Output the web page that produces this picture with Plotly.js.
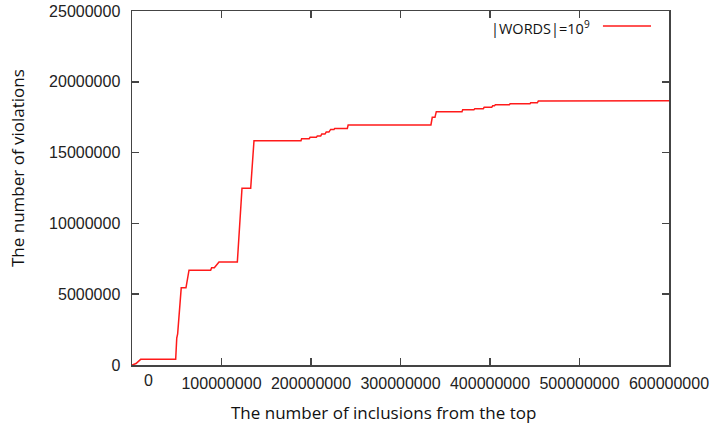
<!DOCTYPE html>
<html>
<head>
<meta charset="utf-8">
<script src="https://cdn.plot.ly/plotly-3.0.1.min.js"></script>
<style>html,body{margin:0;padding:0;background:#fff;}#chart{width:715px;height:432px;}</style>
</head>
<body>
<div id="chart"></div>
<script>
// Step curve vertices
const inclusions = [
  0, 4.5e6, 9.7e6, 48.8e6, 50e6, 51e6, 55e6, 60.3e6, 63.7e6, 87.9e6,
  89e6, 92e6, 97.2e6, 117.7e6, 122.9e6, 132.6e6, 136.3e6, 188.8e6, 189.5e6, 198e6,
  199e6, 206e6, 207e6, 210.8e6, 212e6, 215.6e6, 217e6, 220e6, 222e6, 225.7e6,
  226.5e6, 240.6e6, 241.5e6, 334e6, 335.5e6, 338.5e6, 340e6, 368.7e6, 369.5e6, 382e6,
  383e6, 392.5e6, 393.5e6, 401.9e6, 403e6, 405e6, 406e6, 421.6e6, 422.5e6, 444.7e6,
  445.5e6, 452.9e6, 454e6, 476e6, 477e6, 600e6
];
const violations = [
  0, 0.1e6, 0.4e6, 0.4e6, 1.9e6, 2.2e6, 5.45e6, 5.45e6, 6.7e6, 6.7e6,
  6.87e6, 6.87e6, 7.27e6, 7.27e6, 12.48e6, 12.48e6, 15.84e6, 15.84e6, 15.98e6, 15.98e6,
  16.08e6, 16.08e6, 16.17e6, 16.17e6, 16.31e6, 16.31e6, 16.45e6, 16.45e6, 16.64e6, 16.64e6,
  16.71e6, 16.71e6, 16.95e6, 16.95e6, 17.49e6, 17.49e6, 17.89e6, 17.89e6, 18.03e6, 18.03e6,
  18.1e6, 18.1e6, 18.2e6, 18.2e6, 18.31e6, 18.31e6, 18.38e6, 18.38e6, 18.45e6, 18.45e6,
  18.52e6, 18.52e6, 18.64e6, 18.64e6, 18.67e6, 18.67e6
];
const xTickVals = [0, 100000000, 200000000, 300000000, 400000000, 500000000, 600000000];
const xTickText = ["", "100000000", "200000000", "300000000", "400000000", "500000000", "600000000"];
const yTickVals = [0, 5000000, 10000000, 15000000, 20000000, 25000000];
const yTickText = ["0", "5000000", "10000000", "15000000", "20000000", "25000000"];
const seriesName = "|WORDS|=10<sup>9</sup>";

const axisColor = "#444";
const tickFont = {family: "Liberation Sans, Arial, sans-serif", size: 16, color: "#222"};
const titleFont = {family: "Open Sans, sans-serif", size: 17, color: "#111"};
const legendFont = {family: "Open Sans, sans-serif", size: 14.5, color: "#111"};

const trace = {
  x: inclusions, y: violations, type: "scatter", mode: "lines",
  line: {color: "#ff1a1a", width: 1.5}, showlegend: false, hoverinfo: "skip"
};

const layout = {
  width: 715, height: 432,
  margin: {l: 132, r: 46, t: 11, b: 67},
  paper_bgcolor: "#fff", plot_bgcolor: "#fff",
  showlegend: false,
  xaxis: {
    range: [0, 600000000], tickmode: "array", tickvals: xTickVals, ticktext: xTickText,
    ticks: "inside", ticklen: 7, tickwidth: 1.5, tickcolor: axisColor,
    showline: true, linecolor: axisColor, linewidth: 1.5, mirror: "ticks",
    showgrid: false, zeroline: false, tickfont: tickFont, ticklabelstandoff: 3
  },
  yaxis: {
    range: [0, 25000000], tickmode: "array", tickvals: yTickVals, ticktext: yTickText,
    ticks: "inside", ticklen: 7, tickwidth: 1.5, tickcolor: axisColor,
    showline: true, linecolor: axisColor, linewidth: 1.5, mirror: "ticks",
    showgrid: false, zeroline: false, tickfont: tickFont, ticklabelstandoff: 7
  },
  annotations: [
    {text: "0", xref: "paper", yref: "paper", x: 0.0298, y: 0, xanchor: "center", yanchor: "top",
     yshift: -5, showarrow: false, font: tickFont},
    {text: "The number of inclusions from the top", xref: "paper", yref: "paper",
     x: 0.4683, y: -0.1328, xanchor: "center", yanchor: "middle", showarrow: false, font: titleFont},
    {text: "The number of violations", xref: "paper", yref: "paper", textangle: -90,
     x: -0.2123, y: 0.5565, xanchor: "center", yanchor: "middle", showarrow: false, font: titleFont},
    {text: seriesName, xref: "paper", yref: "paper", x: 0.8566, y: 0.952,
     xanchor: "right", yanchor: "middle", showarrow: false, font: legendFont}
  ],
  shapes: [
    {type: "line", xref: "paper", yref: "paper", x0: 0.877, x1: 0.9665, y0: 0.9576, y1: 0.9576,
     line: {color: "#ff1a1a", width: 1.5}}
  ]
};

Plotly.newPlot("chart", [trace], layout, {displayModeBar: false, staticPlot: true});
</script>
</body>
</html>
